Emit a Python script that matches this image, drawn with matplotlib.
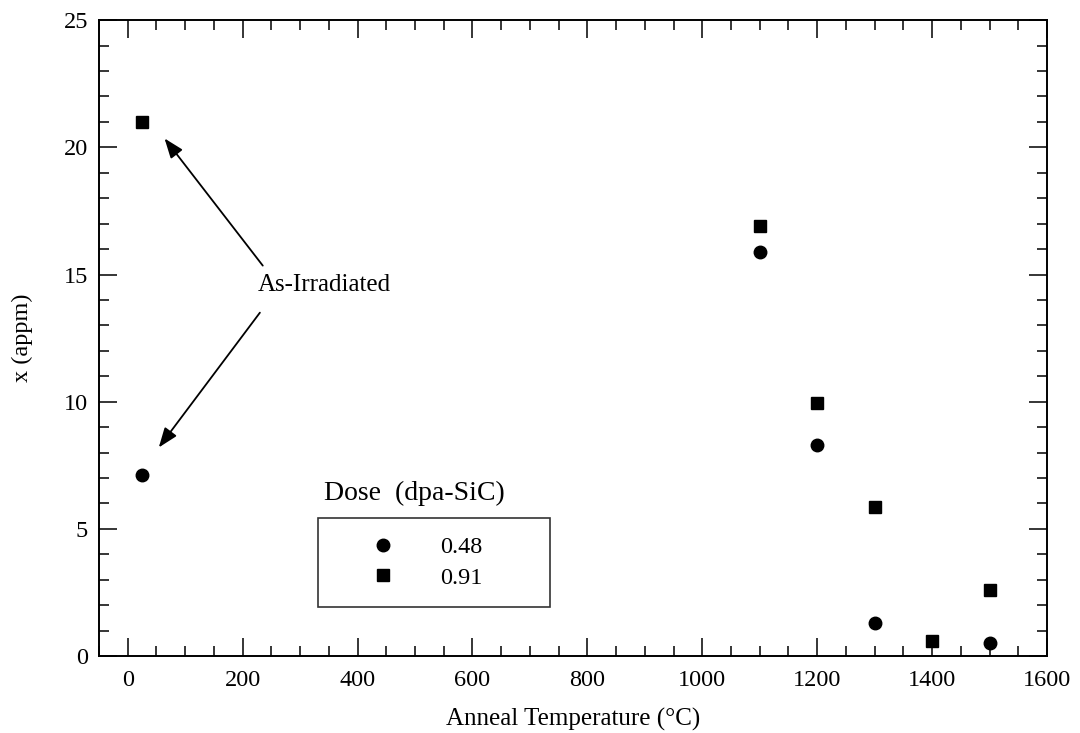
"""Anneal temperature vs x (appm) for two doses, scatter with As-Irradiated callout."""

import matplotlib

matplotlib.use("Agg")
import matplotlib.pyplot as plt  # noqa: E402
from matplotlib.ticker import MultipleLocator  # noqa: E402

plt.rcParams["font.family"] = ["Liberation Serif", "DejaVu Serif"]

# dose 0.48 dpa-SiC (circles)
temp_048 = [25, 1100, 1200, 1300, 1500]
x_048 = [7.1, 15.9, 8.3, 1.3, 0.5]
# dose 0.91 dpa-SiC (squares)
temp_091 = [25, 1100, 1200, 1300, 1400, 1500]
x_091 = [21.0, 16.9, 9.95, 5.85, 0.6, 2.6]

dose_labels = ["0.48", "0.91"]

fig = plt.figure(figsize=(10.8, 7.33), dpi=100)
ax = fig.add_axes([0.0917, 0.105, 0.8777, 0.8675])

h1, = ax.plot(temp_048, x_048, "o", color="black", markersize=9, linestyle="none")
h2, = ax.plot(temp_091, x_091, "s", color="black", markersize=9, linestyle="none")

ax.set_xlim(-50, 1600)
ax.set_ylim(0, 25)
ax.xaxis.set_major_locator(MultipleLocator(200))
ax.xaxis.set_minor_locator(MultipleLocator(50))
ax.yaxis.set_major_locator(MultipleLocator(5))
ax.yaxis.set_minor_locator(MultipleLocator(1))
ax.tick_params(which="both", direction="in", top=True, right=True, width=1.1)
ax.tick_params(which="major", length=13, labelsize=17.5)
ax.tick_params(axis="x", which="major", pad=10)
ax.tick_params(axis="y", which="major", pad=8)
ax.tick_params(which="minor", length=7)
for spine in ax.spines.values():
    spine.set_linewidth(1.4)

ax.set_xlabel("Anneal Temperature (°C)", fontsize=18, labelpad=12)
ax.set_ylabel("x (appm)", fontsize=17.5, labelpad=22)

# callout
ax.text(343, 14.6, "As-Irradiated", fontsize=18, ha="center", va="center")
arrow = dict(arrowstyle="-|>,head_length=1.2,head_width=0.45", color="black", lw=1.3,
             shrinkA=0, shrinkB=0)
ax.annotate("", xy=(64, 20.35), xytext=(235, 15.35), arrowprops=arrow)
ax.annotate("", xy=(54, 8.2), xytext=(230, 13.5), arrowprops=arrow)

# legend: title sits above the framed box
ax.text(0.333, 0.236, "Dose  (dpa-SiC)", transform=ax.transAxes, fontsize=20,
        ha="center", va="bottom")
leg = ax.legend([h1, h2], dose_labels, loc="lower left",
                bbox_to_anchor=(0.231, 0.077, 0.245, 0.145), mode="expand",
                fontsize=17.5, frameon=True, fancybox=False, borderpad=0.75,
                handletextpad=0.45, borderaxespad=0, labelspacing=0.35,
                handlelength=3.84)
leg.get_frame().set_edgecolor("black")
leg.get_frame().set_linewidth(1.2)

fig.savefig("out.png", dpi=100)
plt.close(fig)
